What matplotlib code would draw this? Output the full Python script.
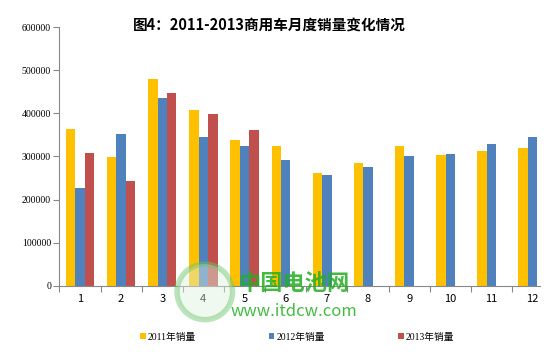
import numpy as np
import matplotlib
matplotlib.use("Agg")
from matplotlib import pyplot as plt
from matplotlib.patches import Ellipse

plt.rcParams['font.family'] = ['Noto Sans CJK SC', 'DejaVu Sans']

# 月份与三年销量
months = ['1', '2', '3', '4', '5', '6', '7', '8', '9', '10', '11', '12']
sales_2011 = [364000, 299000, 479000, 408000, 339000, 325000, 262000, 286000, 325000, 304000, 312000, 320000]
sales_2012 = [228000, 352000, 436000, 346000, 324000, 292000, 258000, 275000, 300000, 305000, 328000, 345000]
sales_2013 = [308000, 242000, 448000, 399000, 362000]
series_names = ['2011年销量', '2012年销量', '2013年销量']
colors = ['#FFC000', '#4F81BD', '#C0504D']
title = '图4：2011-2013商用车月度销量变化情况'

fig = plt.figure(figsize=(5.55, 3.56), dpi=100)
ax = fig.add_axes([0.107, 0.197, 0.866, 0.727])

x = np.arange(len(months))
w = 0.23
for i, vals in enumerate([sales_2011, sales_2012, sales_2013]):
    xi = x[:len(vals)] + (i - 1) * w
    ax.bar(xi, vals, width=w, color=colors[i], label=series_names[i])

ax.set_xlim(-0.5, 11.18)
ax.set_ylim(0, 600000)
ax.set_yticks(range(0, 600001, 100000))
ax.set_yticklabels([str(v) for v in range(0, 600001, 100000)], fontsize=7,
                   family=['Liberation Serif', 'DejaVu Sans'])

# 刻度线在类别之间，标签在类别中央
ax.set_xticks(np.arange(-0.5, 11.5, 1.0))
ax.set_xticklabels([])
ax.set_xticks(x, minor=True)
ax.set_xticklabels(months, minor=True, fontsize=8)
ax.tick_params(axis='x', which='minor', length=0, pad=6)
ax.tick_params(axis='x', which='major', length=4, color='#888888', direction='out')
ax.tick_params(axis='y', length=4, color='#888888', direction='out', pad=2)

for s in ['top', 'right']:
    ax.spines[s].set_visible(False)
ax.spines['left'].set_color('#888888')
ax.spines['bottom'].set_color('#888888')

fig.text(0.485, 0.93, title, ha='center', va='center', fontsize=10.5, fontweight='bold')

# 水印（中国电池网）
logo = Ellipse((0.369, 0.18), 0.1, 0.156, transform=fig.transFigure,
               facecolor='#DFF2DF', edgecolor='#6CC46C', linewidth=4, alpha=0.45)
fig.patches.append(logo)
fig.text(0.53, 0.205, '中国电池网', ha='center', va='center', fontsize=16,
         fontweight='bold', color='#22B022', alpha=0.85)
fig.text(0.53, 0.125, 'www.itdcw.com', ha='center', va='center', fontsize=12,
         color='#22B022', alpha=0.85)

fig.legend(loc='center', bbox_to_anchor=(0.535, 0.053), ncol=3, frameon=False,
           handlelength=0.6, handleheight=0.6, handletextpad=0.2,
           columnspacing=7.5,
           prop={'family': ['Liberation Serif', 'Noto Sans CJK SC'], 'size': 7})

fig.savefig('out.png', dpi=100)
